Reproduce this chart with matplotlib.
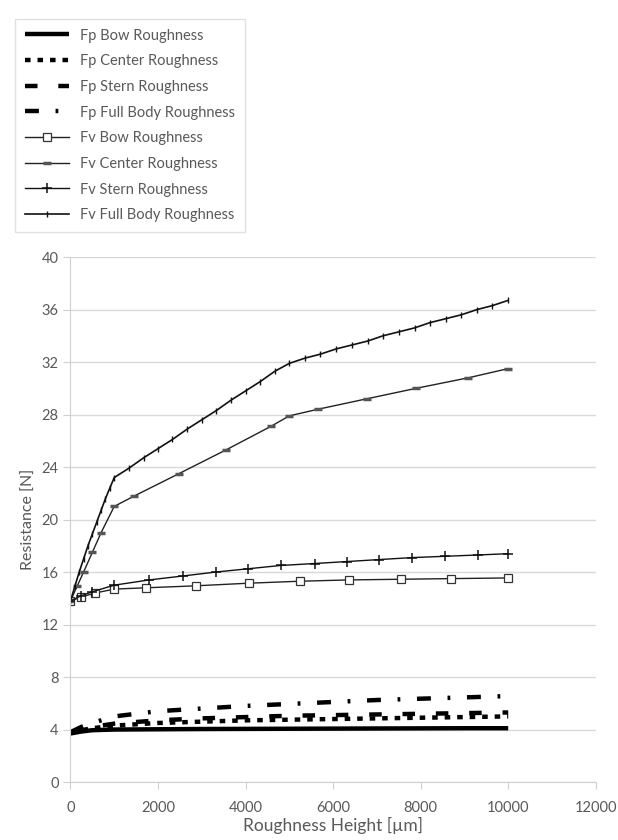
import matplotlib
matplotlib.use("Agg")
import matplotlib.pyplot as plt

plt.rcParams['font.family'] = ['Lato', 'DejaVu Sans']
plt.rcParams['lines.scale_dashes'] = False

# Fp series (pressure resistance)
fp_x = [0, 250, 500, 1000, 2000, 3000, 4000, 5000, 6000, 7000, 8000, 9000, 10000]
fp_bow = [3.7, 3.85, 3.95, 4.0, 4.02, 4.04, 4.05, 4.06, 4.07, 4.08, 4.09, 4.1, 4.1]
fp_center = [3.75, 3.95, 4.1, 4.3, 4.5, 4.6, 4.7, 4.75, 4.8, 4.85, 4.9, 4.95, 5.0]
fp_stern = [3.75, 4.0, 4.2, 4.45, 4.7, 4.85, 4.95, 5.05, 5.1, 5.15, 5.2, 5.25, 5.3]
fp_full = [3.8, 4.2, 4.5, 5.0, 5.4, 5.6, 5.8, 5.95, 6.1, 6.25, 6.35, 6.45, 6.55]

# Fv series (viscous resistance)
fv_bow_x = [0, 250, 560, 1000, 1730, 2860, 4070, 5240, 6370, 7550, 8700, 10000]
fv_bow = [13.8, 14.1, 14.4, 14.7, 14.8, 14.95, 15.15, 15.3, 15.4, 15.45, 15.5, 15.55]

fv_center_x = [0, 150, 300, 500, 700, 1000, 1460, 2480, 3550, 4580, 5000, 5650, 6770, 7900, 9090, 10000]
fv_center = [13.8, 14.9, 16.0, 17.5, 19.0, 21.0, 21.8, 23.5, 25.3, 27.1, 27.9, 28.4, 29.2, 30.0, 30.8, 31.5]

fv_stern_x = [0, 250, 500, 1000, 1800, 2570, 3320, 4060, 4800, 5580, 6320, 7050, 7800, 8560, 9310, 10000]
fv_stern = [13.8, 14.2, 14.5, 15.0, 15.4, 15.7, 16.0, 16.25, 16.5, 16.65, 16.8, 16.95, 17.1, 17.2, 17.3, 17.4]

fv_full_x = [0, 100, 200, 300, 400, 500, 600, 700, 800, 900, 1000,
             1330, 1670, 2000, 2330, 2670, 3000, 3330, 3670, 4000, 4330, 4670, 5000,
             5360, 5710, 6070, 6430, 6790, 7140, 7500, 7860, 8210, 8570, 8930, 9290, 9640, 10000]
fv_full = [13.8, 14.9, 16.0, 17.0, 18.0, 18.9, 19.8, 20.7, 21.6, 22.4, 23.2,
           23.9, 24.7, 25.4, 26.1, 26.9, 27.6, 28.3, 29.1, 29.8, 30.5, 31.3, 31.9,
           32.3, 32.6, 33.0, 33.3, 33.6, 34.0, 34.3, 34.6, 35.0, 35.3, 35.6, 36.0, 36.3, 36.7]

x_ticks = [0, 2000, 4000, 6000, 8000, 10000, 12000]
y_ticks = [0, 4, 8, 12, 16, 20, 24, 28, 32, 36, 40]

txt = '#595959'
fig = plt.figure(figsize=(6.18, 8.4), dpi=100)
ax = fig.add_axes([0.114, 0.069, 0.850, 0.625])

ax.plot(fp_x, fp_bow, color='black', lw=3.2, solid_capstyle='butt', label='Fp Bow Roughness')
ax.plot(fp_x, fp_center, color='black', lw=3.2, dashes=(4, 5), label='Fp Center Roughness')
ax.plot(fp_x, fp_stern, color='black', lw=3.2, dashes=(9, 15), label='Fp Stern Roughness')
ax.plot(fp_x, fp_full, color='black', lw=3.2, dashes=(10, 12, 2, 12), label='Fp Full Body Roughness')

ax.plot(fv_bow_x, fv_bow, color='#222222', lw=1.0, marker='s', ms=6, mfc='white',
        mec='#333333', mew=0.9, label='Fv Bow Roughness')
ax.plot(fv_center_x, fv_center, color='#222222', lw=1.0, marker='_', ms=6,
        mec='#555555', mew=2.5, label='Fv Center Roughness')
ax.plot(fv_stern_x, fv_stern, color='#111111', lw=1.0, marker='+', ms=7,
        mew=1.1, label='Fv Stern Roughness')
ax.plot(fv_full_x, fv_full, color='#111111', lw=1.2, marker='|', ms=5,
        mew=1.0, label='Fv Full Body Roughness')

ax.set_xlim(0, 12000)
ax.set_ylim(0, 40)
ax.set_xticks(x_ticks)
ax.set_yticks(y_ticks)
ax.grid(axis='y', color='#d9d9d9', lw=1)
ax.set_axisbelow(True)
for s in ['top', 'right']:
    ax.spines[s].set_visible(False)
for s in ['left', 'bottom']:
    ax.spines[s].set_color('#d0d0d0')
ax.tick_params(axis='both', colors='#d0d0d0', labelcolor=txt, labelsize=10.5, length=5)
ax.tick_params(axis='x', pad=9)
ax.set_xlabel('Roughness Height [µm]', color=txt, fontsize=12.5, labelpad=1)
ax.set_ylabel('Resistance [N]', color=txt, fontsize=11.5, labelpad=4)

leg = fig.legend(loc='upper left', bbox_to_anchor=(0.013, 0.986), fontsize=10.5,
                 handlelength=3.0, labelspacing=0.8, frameon=True, fancybox=False,
                 edgecolor='#d9d9d9', borderpad=0.65, handletextpad=0.8)
for t in leg.get_texts():
    t.set_color(txt)

fig.savefig('out.png', dpi=100)
